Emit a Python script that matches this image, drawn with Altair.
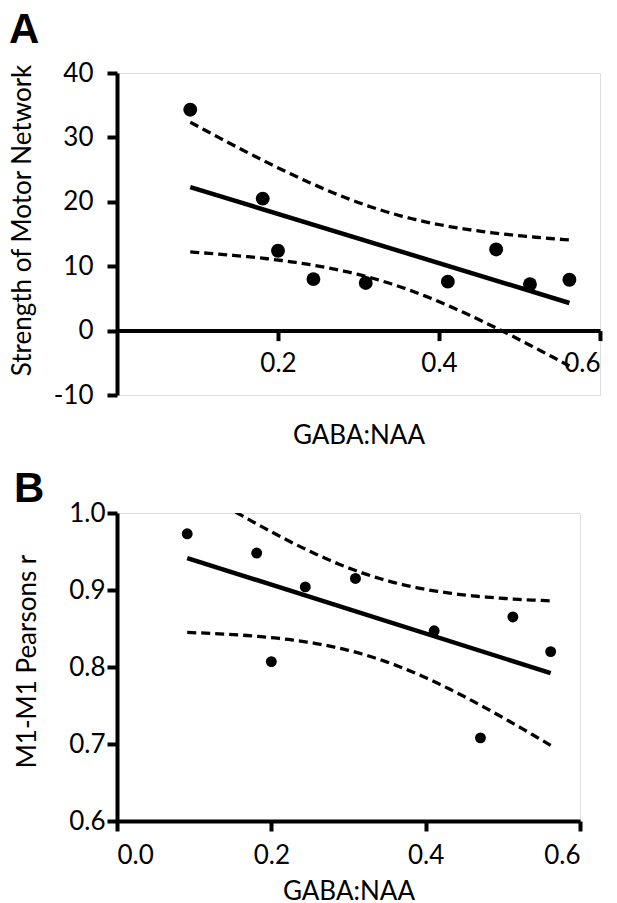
import altair as alt
import numpy as np
import pandas as pd

# GABA:NAA ratio per participant (shared by both panels)
gaba_naa = [0.091, 0.181, 0.200, 0.244, 0.309, 0.411, 0.471, 0.513, 0.562]
# Panel A: strength of motor network
strength = [34.3, 20.5, 12.4, 8.0, 7.4, 7.6, 12.6, 7.2, 7.9]
# Panel B: M1-M1 Pearson r
pearson_r = [0.973, 0.948, 0.807, 0.904, 0.915, 0.847, 0.708, 0.865, 0.820]

A_yticks = [-10, 0, 10, 20, 30, 40]
A_xticks = [0.2, 0.4, 0.6]
B_yticks = [0.6, 0.7, 0.8, 0.9, 1.0]
B_xticks = [0.0, 0.2, 0.4, 0.6]

T_CRIT = 2.365  # two-sided 95%, df = n - 2 = 7

FONT = "Lato"
FS = 26


def conf_band(xs, ys):
    x = np.asarray(xs, float)
    y = np.asarray(ys, float)
    n = len(x)
    b, a = np.polyfit(x, y, 1)
    resid = y - (a + b * x)
    s = np.sqrt((resid ** 2).sum() / (n - 2))
    sxx = ((x - x.mean()) ** 2).sum()
    g = np.linspace(x.min(), x.max(), 80)
    fit = a + b * g
    half = T_CRIT * s * np.sqrt(1.0 / n + (g - x.mean()) ** 2 / sxx)
    lo = pd.DataFrame({"x": g, "v": fit - half, "band": "lower"})
    hi = pd.DataFrame({"x": g, "v": fit + half, "band": "upper"})
    return pd.concat([lo, hi], ignore_index=True)


def axis_common(**kw):
    base = dict(
        domainColor="black", domainWidth=4, tickColor="black", tickWidth=4,
        tickSize=10, labelFont=FONT, labelFontSize=FS, labelColor="black",
        titleFont=FONT, titleFontSize=FS, titleFontWeight="normal",
        titleColor="black", grid=False,
    )
    base.update(kw)
    return alt.Axis(**base)


def panel(letter, ys, ydom, yticks, xticks, ytitle, yfmt, w, h, size,
          xaxis_kw, yaxis_kw, title_kw):
    pts = pd.DataFrame({"x": gaba_naa, "y": ys})
    band = conf_band(gaba_naa, ys)
    xs = alt.Scale(domain=[0, 0.6], nice=False, zero=False)
    ysc = alt.Scale(domain=ydom, nice=False, zero=False)
    xax = axis_common(values=xticks, format=".1f", title="GABA:NAA", **xaxis_kw)
    yax = axis_common(values=yticks, format=yfmt, title=ytitle, **yaxis_kw)

    points = alt.Chart(pts).mark_circle(size=size, color="black", opacity=1).encode(
        x=alt.X("x:Q", scale=xs, axis=xax),
        y=alt.Y("y:Q", scale=ysc, axis=yax),
    )
    fit = alt.Chart(pts).transform_regression("x", "y").mark_line(
        color="black", strokeWidth=4.5
    ).encode(x="x:Q", y="y:Q")
    bands = alt.Chart(band).mark_line(
        color="black", strokeWidth=3.3, strokeDash=[9, 5], clip=True
    ).encode(x="x:Q", y="v:Q", detail="band:N")

    return alt.layer(bands, fit, points).properties(
        width=w, height=h,
        title=alt.TitleParams(letter, anchor="start", frame="bounds",
                              font="Liberation Sans", fontWeight="bold",
                              fontSize=42, color="black", **title_kw),
    )


hA = 322
pA = panel(
    "A", strength, [-10, 40], A_yticks, A_xticks,
    "Strength of Motor Network", "d", 483, hA, 193,
    dict(offset=-0.2 * hA, labelPadding=10, titlePadding=46),
    dict(labelPadding=14, titleX=-82, titleY=147,
         labelExpr="'' + datum.value"),
    dict(offset=8),
)
pB = panel(
    "B", pearson_r, [0.6, 1.0], B_yticks, B_xticks,
    "M1-M1 Pearsons r", ".1f", 463, 308, 119,
    dict(labelPadding=11, titlePadding=10),
    dict(labelPadding=2, titleX=-77, titleY=148),
    dict(offset=-11),
)

chart = alt.vconcat(pA, pB, spacing=17).properties(
    padding={"left": 0, "top": 0, "right": 0, "bottom": 0}
).configure_view(stroke=None).configure(background="white")

chart.save("out.html", embed_options={"renderer": "svg", "actions": False})
